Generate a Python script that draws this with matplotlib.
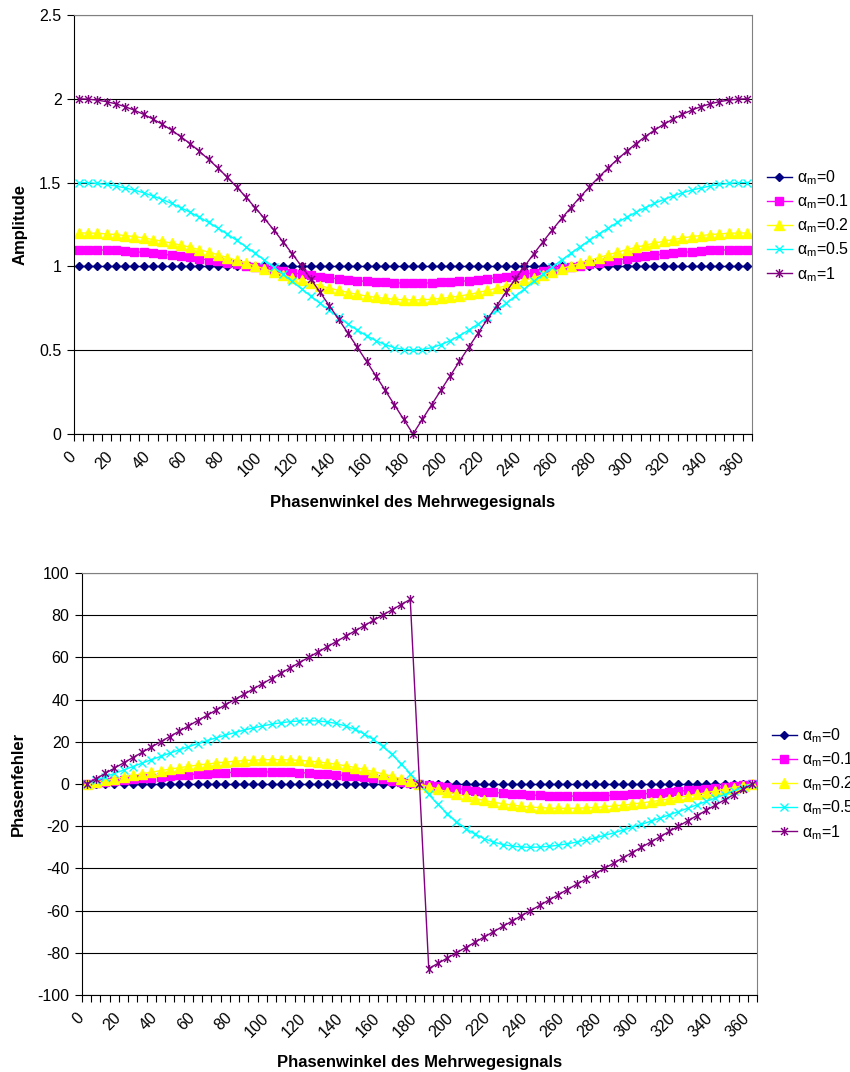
import matplotlib
matplotlib.use("Agg")
import matplotlib.pyplot as plt
from matplotlib.path import Path

plt.rcParams["font.family"] = ["Liberation Sans", "DejaVu Sans"]
plt.rcParams["mathtext.fontset"] = "custom"
plt.rcParams["mathtext.rm"] = "Liberation Sans"
plt.rcParams["mathtext.it"] = "Liberation Sans"

# Phasenwinkel 0..360 in 5-Grad-Schritten (Kategorien)
winkel = list(range(0, 365, 5))

labels = [r"$\alpha_m$=0", r"$\alpha_m$=0.1", r"$\alpha_m$=0.2",
          r"$\alpha_m$=0.5", r"$\alpha_m$=1"]

# Amplitude
amp_0 = [1.0] * 73
amp_01 = [1.1, 1.1, 1.099, 1.097, 1.095, 1.092, 1.088, 1.083, 1.079, 1.073,
          1.067, 1.061, 1.054, 1.046, 1.039, 1.03, 1.022, 1.014, 1.005, 0.996,
          0.988, 0.979, 0.97, 0.962, 0.954, 0.946, 0.939, 0.932, 0.926, 0.92,
          0.915, 0.91, 0.907, 0.904, 0.902, 0.9, 0.9,
          0.9, 0.902, 0.904, 0.907, 0.91, 0.915, 0.92, 0.926, 0.932, 0.939,
          0.946, 0.954, 0.962, 0.97, 0.979, 0.988, 0.996, 1.005, 1.014, 1.022,
          1.03, 1.039, 1.046, 1.054, 1.061, 1.067, 1.073, 1.079, 1.083, 1.088,
          1.092, 1.095, 1.097, 1.099, 1.1, 1.1]
amp_02 = [1.2, 1.199, 1.198, 1.194, 1.19, 1.184, 1.178, 1.17, 1.16, 1.15,
          1.139, 1.127, 1.114, 1.1, 1.085, 1.069, 1.053, 1.037, 1.02, 1.003,
          0.985, 0.968, 0.95, 0.933, 0.917, 0.9, 0.885, 0.87, 0.857, 0.844,
          0.833, 0.823, 0.815, 0.809, 0.804, 0.801, 0.8,
          0.801, 0.804, 0.809, 0.815, 0.823, 0.833, 0.844, 0.857, 0.87, 0.885,
          0.9, 0.917, 0.933, 0.95, 0.968, 0.985, 1.003, 1.02, 1.037, 1.053,
          1.069, 1.085, 1.1, 1.114, 1.127, 1.139, 1.15, 1.16, 1.17, 1.178,
          1.184, 1.19, 1.194, 1.198, 1.199, 1.2]
amp_05 = [1.5, 1.499, 1.495, 1.489, 1.48, 1.468, 1.455, 1.439, 1.42, 1.399,
          1.376, 1.35, 1.323, 1.293, 1.262, 1.228, 1.193, 1.156, 1.118, 1.078,
          1.038, 0.996, 0.953, 0.91, 0.866, 0.822, 0.779, 0.737, 0.696, 0.656,
          0.62, 0.586, 0.557, 0.533, 0.515, 0.504, 0.5,
          0.504, 0.515, 0.533, 0.557, 0.586, 0.62, 0.656, 0.696, 0.737, 0.779,
          0.822, 0.866, 0.91, 0.953, 0.996, 1.038, 1.078, 1.118, 1.156, 1.193,
          1.228, 1.262, 1.293, 1.323, 1.35, 1.376, 1.399, 1.42, 1.439, 1.455,
          1.468, 1.48, 1.489, 1.495, 1.499, 1.5]
amp_1 = [2.0, 1.998, 1.992, 1.983, 1.97, 1.953, 1.932, 1.907, 1.879, 1.848,
         1.813, 1.774, 1.732, 1.687, 1.638, 1.587, 1.532, 1.475, 1.414, 1.351,
         1.286, 1.218, 1.147, 1.075, 1.0, 0.924, 0.845, 0.765, 0.684, 0.601,
         0.518, 0.433, 0.347, 0.261, 0.174, 0.087, 0.0,
         0.087, 0.174, 0.261, 0.347, 0.433, 0.518, 0.601, 0.684, 0.765, 0.845,
         0.924, 1.0, 1.075, 1.147, 1.218, 1.286, 1.351, 1.414, 1.475, 1.532,
         1.587, 1.638, 1.687, 1.732, 1.774, 1.813, 1.848, 1.879, 1.907, 1.932,
         1.953, 1.97, 1.983, 1.992, 1.998, 2.0]

# Phasenfehler (Grad)
ph_0 = [0.0] * 73
ph_01 = [0, 0.45, 0.91, 1.35, 1.79, 2.22, 2.63, 3.04, 3.42, 3.78,
         4.12, 4.43, 4.72, 4.97, 5.19, 5.38, 5.53, 5.64, 5.71, 5.74,
         5.72, 5.66, 5.56, 5.41, 5.21, 4.97, 4.68, 4.35, 3.98, 3.58,
         3.13, 2.66, 2.16, 1.64, 1.1, 0.56, 0,
         -0.56, -1.1, -1.64, -2.16, -2.66, -3.13, -3.58, -3.98, -4.35, -4.68,
         -4.97, -5.21, -5.41, -5.56, -5.66, -5.72, -5.74, -5.71, -5.64, -5.53,
         -5.38, -5.19, -4.97, -4.72, -4.43, -4.12, -3.78, -3.42, -3.04, -2.63,
         -2.22, -1.79, -1.35, -0.91, -0.45, 0]
ph_02 = [0, 0.83, 1.66, 2.48, 3.3, 4.09, 4.87, 5.63, 6.36, 7.06,
         7.73, 8.36, 8.95, 9.49, 9.98, 10.41, 10.78, 11.08, 11.31, 11.46,
         11.53, 11.52, 11.41, 11.2, 10.89, 10.49, 9.97, 9.35, 8.63, 7.81,
         6.9, 5.89, 4.82, 3.67, 2.48, 1.25, 0,
         -1.25, -2.48, -3.67, -4.82, -5.89, -6.9, -7.81, -8.63, -9.35, -9.97,
         -10.49, -10.89, -11.2, -11.41, -11.52, -11.53, -11.46, -11.31, -11.08, -10.78,
         -10.41, -9.98, -9.49, -8.95, -8.36, -7.73, -7.06, -6.36, -5.63, -4.87,
         -4.09, -3.3, -2.48, -1.66, -0.83, 0]
ph_05 = [0, 1.67, 3.33, 4.99, 6.64, 8.27, 9.9, 11.5, 13.08, 14.64,
         16.16, 17.66, 19.11, 20.51, 21.86, 23.15, 24.37, 25.52, 26.57, 27.51,
         28.33, 29.02, 29.54, 29.88, 30.0, 29.87, 29.44, 28.68, 27.52, 25.91,
         23.79, 21.13, 17.88, 14.05, 9.7, 4.97, 0,
         -4.97, -9.7, -14.05, -17.88, -21.13, -23.79, -25.91, -27.52, -28.68, -29.44,
         -29.87, -30.0, -29.88, -29.54, -29.02, -28.33, -27.51, -26.57, -25.52, -24.37,
         -23.15, -21.86, -20.51, -19.11, -17.66, -16.16, -14.64, -13.08, -11.5, -9.9,
         -8.27, -6.64, -4.99, -3.33, -1.67, 0]
ph_1 = [0, 2.5, 5, 7.5, 10, 12.5, 15, 17.5, 20, 22.5,
        25, 27.5, 30, 32.5, 35, 37.5, 40, 42.5, 45, 47.5,
        50, 52.5, 55, 57.5, 60, 62.5, 65, 67.5, 70, 72.5,
        75, 77.5, 80, 82.5, 85, 87.5, 0,
        -87.5, -85, -82.5, -80, -77.5, -75, -72.5, -70, -67.5, -65,
        -62.5, -60, -57.5, -55, -52.5, -50, -47.5, -45, -42.5, -40,
        -37.5, -35, -32.5, -30, -27.5, -25, -22.5, -20, -17.5, -15,
        -12.5, -10, -7.5, -5, -2.5, 0]

# Excel-Stern: X mit senkrechtem Strich
stern = Path([(-1, -1), (1, 1), (-1, 1), (1, -1), (0, -1.3), (0, 1.3)],
             [Path.MOVETO, Path.LINETO, Path.MOVETO, Path.LINETO,
              Path.MOVETO, Path.LINETO])

stile = [
    dict(color="#000080", marker="D", markersize=4),
    dict(color="#FF00FF", marker="s", markersize=5.5),
    dict(color="#FFFF00", marker="^", markersize=6.5),
    dict(color="#00FFFF", marker="x", markersize=5.5, markeredgewidth=1),
    dict(color="#800080", marker=stern, markersize=6.5, markeredgewidth=1,
         markerfacecolor="none"),
]


def zeichne(ax, reihen, yticks, ylabel_txt, legend_pos, ylabel_x):
    x = list(range(len(winkel)))
    for werte, lab, st in zip(reihen, labels, stile):
        ax.plot(x, werte, linewidth=1, label=lab, clip_on=False, **st)
    ax.set_xlim(-0.5, len(winkel) - 0.5)
    ax.set_ylim(yticks[0], yticks[-1])
    ax.set_yticks(yticks)
    ax.set_yticklabels([f"{v:g}" for v in yticks], fontsize=11.5)
    ax.set_xticks(x[::4])
    ax.set_xticklabels([str(w) for w in winkel[::4]], rotation=45,
                       ha="right", fontsize=11.5)
    ax.set_xticks([i - 0.5 for i in range(len(winkel) + 1)], minor=True)
    ax.tick_params(axis="x", which="major", length=0, pad=11)
    ax.tick_params(axis="x", which="minor", length=5, width=0.8,
                   direction="out")
    ax.tick_params(axis="y", length=5, width=0.8, direction="out", pad=4)
    ax.grid(axis="y", color="black", linewidth=0.8)
    ax.set_axisbelow(True)
    for s in ("top", "right"):
        ax.spines[s].set_color("#808080")
    for s in ("left", "bottom"):
        ax.spines[s].set_color("black")
    fig = ax.figure
    fig.text(ylabel_x, ax.get_position().y0 + ax.get_position().height / 2,
             ylabel_txt, rotation=90, ha="center", va="center",
             fontsize=12, fontweight="bold")
    ax.legend(loc="center left", bbox_to_anchor=legend_pos,
              bbox_transform=fig.transFigure, frameon=False,
              fontsize=11.5, handlelength=1.55, handletextpad=0.3,
              labelspacing=0.34, borderpad=0, borderaxespad=0)


fig = plt.figure(figsize=(8.5, 10.72), dpi=100)
ax1 = fig.add_axes([74 / 850, 1 - 434 / 1072, 678 / 850, 419 / 1072])
ax2 = fig.add_axes([82 / 850, 1 - 995 / 1072, 675 / 850, 422 / 1072])

zeichne(ax1, [amp_0, amp_01, amp_02, amp_05, amp_1],
        [0, 0.5, 1, 1.5, 2, 2.5], "Amplitude", (767 / 850, 1 - 226 / 1072),
        20 / 850)
zeichne(ax2, [ph_0, ph_01, ph_02, ph_05, ph_1],
        list(range(-100, 101, 20)), "Phasenfehler",
        (772 / 850, 1 - 784 / 1072), 18 / 850)

fig.text(413 / 850, 1 - 503 / 1072, "Phasenwinkel des Mehrwegesignals",
         ha="center", va="center", fontsize=12, fontweight="bold")
fig.text(420 / 850, 1 - 1062 / 1072, "Phasenwinkel des Mehrwegesignals",
         ha="center", va="center", fontsize=12, fontweight="bold")

fig.savefig("out.png", dpi=100)
